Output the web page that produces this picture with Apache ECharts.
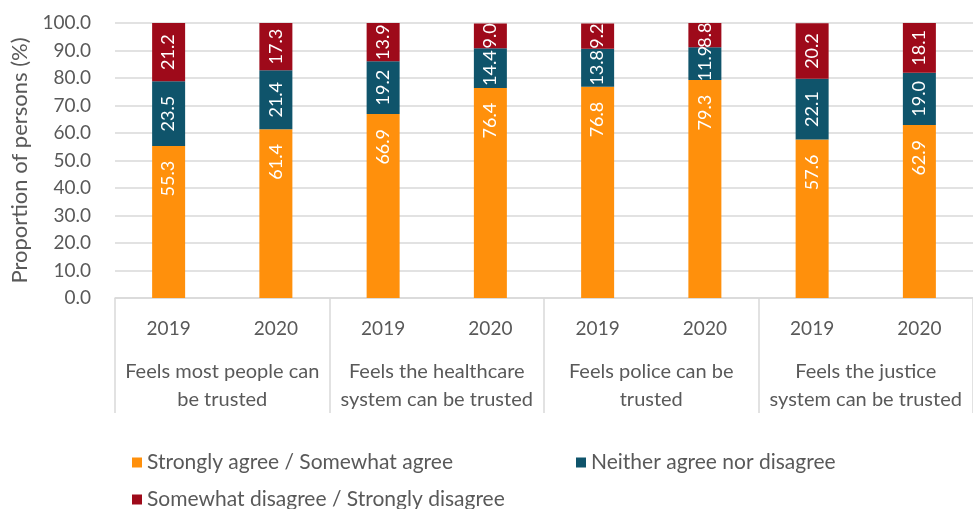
<!DOCTYPE html>
<html>
<head>
<meta charset="utf-8">
<script src="https://cdn.jsdelivr.net/npm/echarts@6/dist/echarts.min.js"></script>
<style>
  html, body { margin: 0; padding: 0; background: #fff; }
  #chart { width: 973px; height: 509px; }
</style>
</head>
<body>
<div id="chart"></div>
<script>
// Survey years shown under each bar
const years = ['2019', '2020', '2019', '2020', '2019', '2020', '2019', '2020'];
// Statements, one per pair of bars
const groups = [
  'Feels most people can\nbe trusted',
  'Feels the healthcare\nsystem can be trusted',
  'Feels police can be\ntrusted',
  'Feels the justice\nsystem can be trusted'
];
const seriesNames = [
  'Strongly agree / Somewhat agree',
  'Neither agree nor disagree',
  'Somewhat disagree / Strongly disagree'
];
// Percent of persons per answer
const agree = [55.3, 61.4, 66.9, 76.4, 76.8, 79.3, 57.6, 62.9];
const neutral = [23.5, 21.4, 19.2, 14.4, 13.8, 11.9, 22.1, 19.0];
const disagree = [21.2, 17.3, 13.9, 9.0, 9.2, 8.8, 20.2, 18.1];
const yTicks = { min: 0, max: 100, interval: 10 };

const colors = ['#FF900C', '#0F546B', '#9E0A1A'];
const FONT = 'Lato, "Open Sans", sans-serif';
const TEXT = '#595959';
const LINE = '#d9d9d9';

const chart = echarts.init(document.getElementById('chart'));

// Rotated value labels; the agree segment puts its label near the top end
function makeSeries(name, values, color, atEnd) {
  const label = {
    show: true,
    rotate: 90,
    color: '#fff',
    fontFamily: FONT,
    fontSize: 18,
    formatter: p => p.value.toFixed(1)
  };
  if (atEnd) {
    label.position = 'insideTop';
    label.distance = 15;
    label.align = 'right';
    label.verticalAlign = 'middle';
  } else {
    label.position = 'inside';
  }
  return {
    name: name,
    type: 'bar',
    stack: 'total',
    data: values,
    barWidth: 33,
    itemStyle: { color: color },
    label: label
  };
}

const legendText = { color: TEXT, fontSize: 21, fontFamily: FONT };

chart.setOption({
  animation: false,
  textStyle: { fontFamily: FONT },
  grid: { left: 115, right: -2, top: 23, bottom: 211, containLabel: false },
  legend: [
    {
      data: [seriesNames[0]], left: 127, top: 447, icon: 'rect',
      itemWidth: 10, itemHeight: 10, itemGap: 6, textStyle: legendText
    },
    {
      data: [seriesNames[1]], left: 571, top: 447, icon: 'rect',
      itemWidth: 10, itemHeight: 10, textStyle: legendText
    },
    {
      data: [seriesNames[2]], left: 127, top: 484, icon: 'rect',
      itemWidth: 10, itemHeight: 10, textStyle: legendText
    }
  ],
  xAxis: [
    {
      type: 'category',
      data: years,
      position: 'bottom',
      axisLine: { show: true, lineStyle: { color: LINE, width: 1.5 } },
      axisTick: { show: false },
      axisLabel: { color: TEXT, fontSize: 19, margin: 21, fontFamily: FONT }
    },
    {
      type: 'category',
      data: groups,
      position: 'bottom',
      offset: 0,
      axisLine: { show: false },
      axisTick: { show: true, length: 115, interval: 0, lineStyle: { color: LINE, width: 1.5 } },
      axisLabel: {
        color: TEXT, fontSize: 20, margin: 60, lineHeight: 28,
        interval: 0, align: 'center', fontFamily: FONT
      }
    }
  ],
  yAxis: {
    type: 'value',
    min: yTicks.min,
    max: yTicks.max,
    interval: yTicks.interval,
    name: 'Proportion of persons (%)',
    nameLocation: 'middle',
    nameGap: 84,
    nameTextStyle: { color: TEXT, fontSize: 22, fontFamily: FONT },
    axisLine: { show: false },
    axisTick: { show: false },
    axisLabel: {
      color: TEXT, fontSize: 19, margin: 24, fontFamily: FONT,
      formatter: v => v.toFixed(1)
    },
    splitLine: { show: true, lineStyle: { color: LINE, width: 1.5 } }
  },
  series: [
    makeSeries(seriesNames[0], agree, colors[0], true),
    makeSeries(seriesNames[1], neutral, colors[1], false),
    makeSeries(seriesNames[2], disagree, colors[2], false)
  ]
});
</script>
</body>
</html>
